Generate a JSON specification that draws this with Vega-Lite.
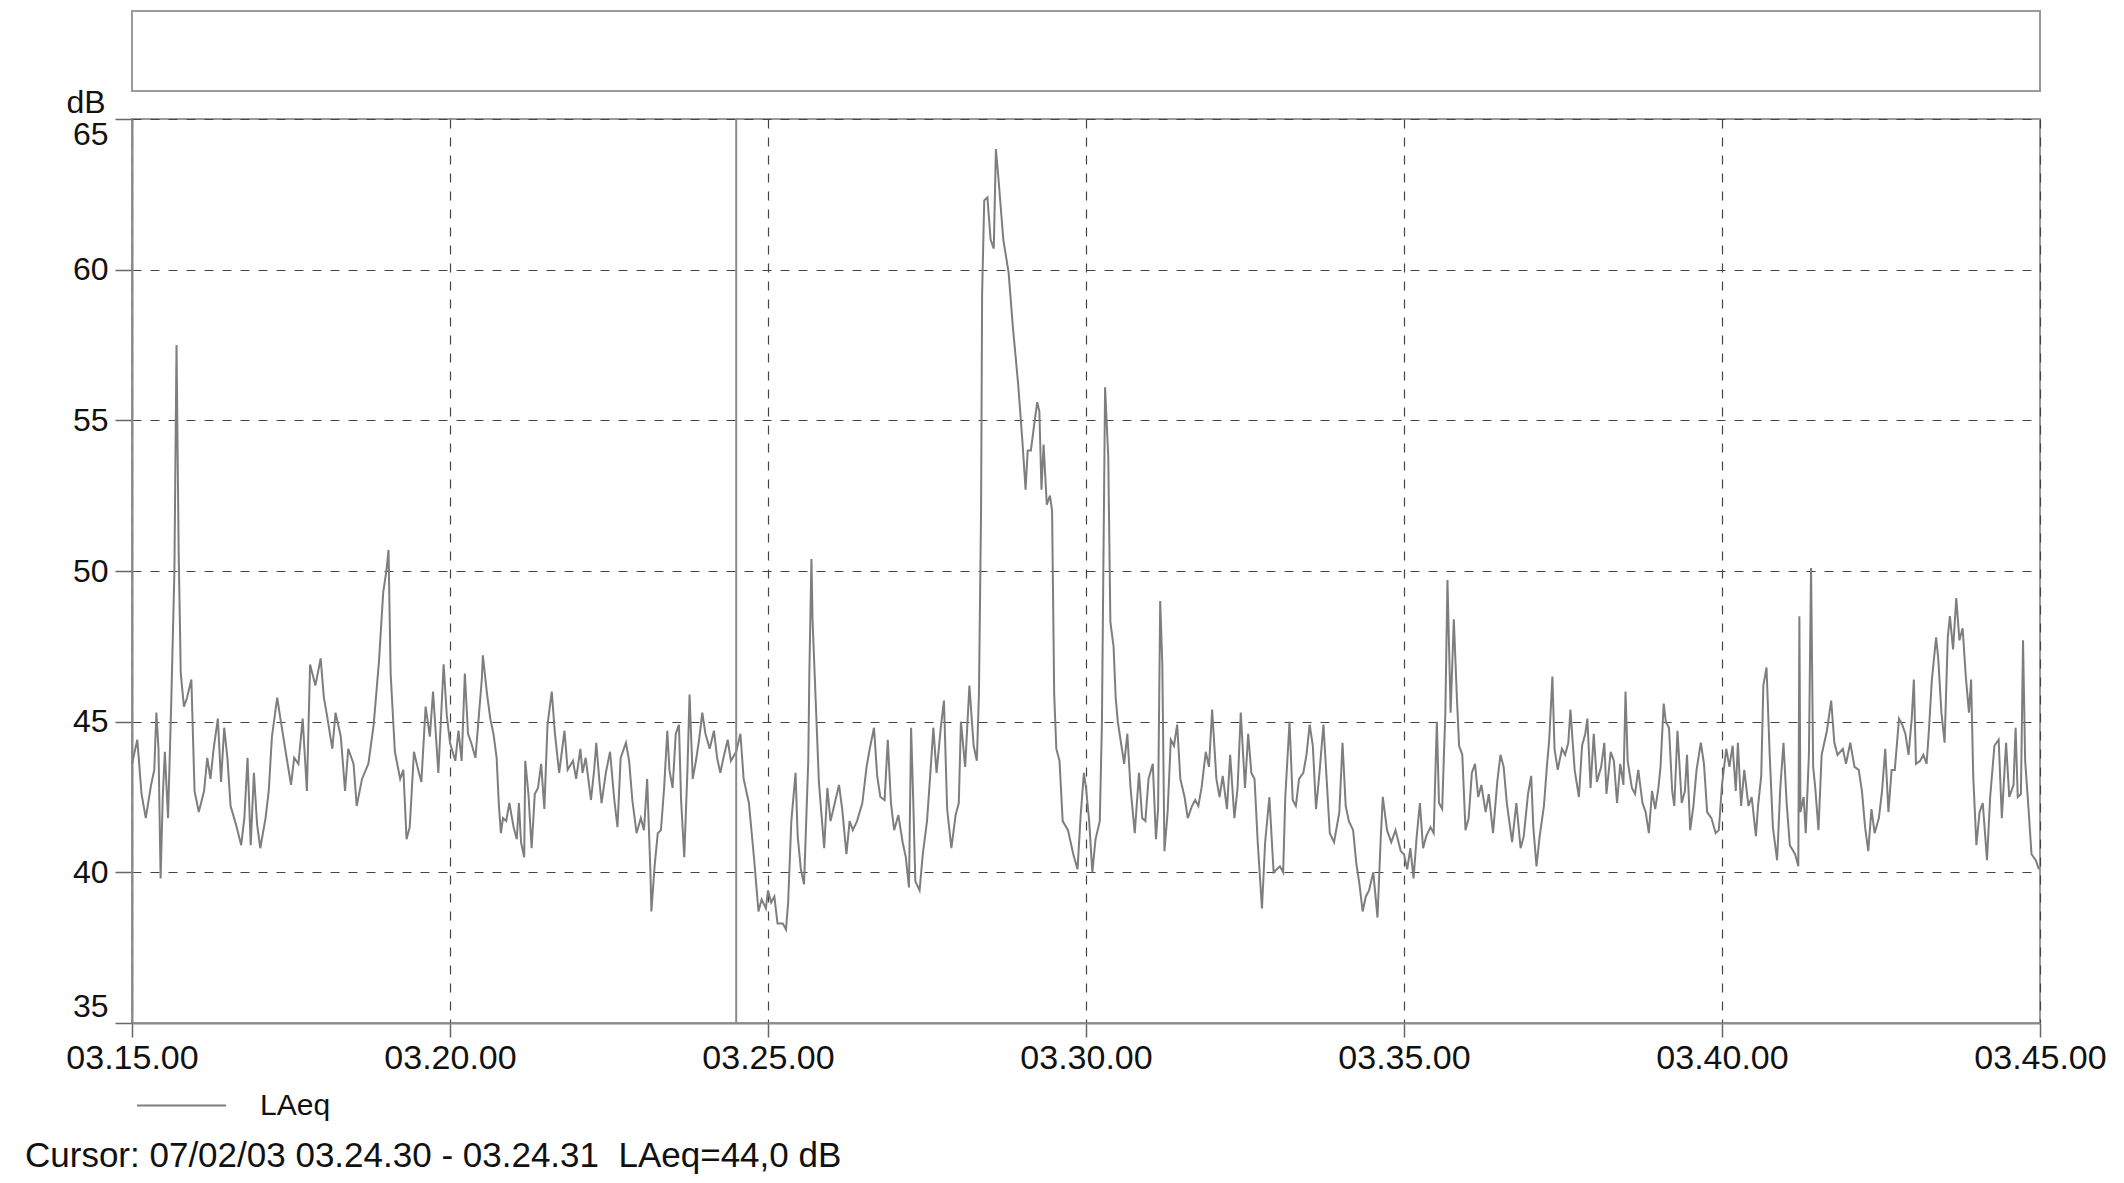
{
  "$schema": "https://vega.github.io/schema/vega-lite/v6.json",
  "padding": {"left": 24, "top": 7, "right": 10, "bottom": 5},
  "background": "white",
  "spacing": 28,
  "bounds": "flush",
  "config": {
    "font": "Liberation Sans",
    "view": {"stroke": "#9a9a9a", "strokeWidth": 2},
    "axis": {
      "labelFont": "Liberation Sans",
      "labelColor": "#111111",
      "domainColor": "#8a8a8a",
      "domainWidth": 2,
      "tickColor": "#666666",
      "tickWidth": 1.5,
      "gridColor": "#444444",
      "gridDash": [9, 9],
      "gridWidth": 1.2
    }
  },
  "vconcat": [
    {
      "width": 1908,
      "height": 80,
      "data": {"values": [{"LAeq": 50}]},
      "mark": {"type": "point", "opacity": 0},
      "encoding": {
        "y": {"field": "LAeq", "type": "quantitative", "axis": null}
      }
    },
    {
      "width": 1908,
      "height": 904,
      "title": {
        "text": "Cursor: 07/02/03 03.24.30 - 03.24.31 \u00a0LAeq=44,0 dB",
        "orient": "bottom",
        "anchor": "start",
        "frame": "group",
        "dx": -107,
        "offset": 64,
        "fontSize": 35,
        "fontWeight": "normal",
        "color": "#111111"
      },
      "layer": [
        {
          "data": {
            "format": {"parse": {"time": "date:'%H:%M:%S'"}},
            "values": [
              {"time": "3:15:00", "LAeq": 43.6}, {"time": "3:15:05", "LAeq": 44.4}, {"time": "3:15:09", "LAeq": 42.6},
              {"time": "3:15:13", "LAeq": 41.8}, {"time": "3:15:18", "LAeq": 42.9}, {"time": "3:15:21", "LAeq": 43.4},
              {"time": "3:15:23", "LAeq": 45.3}, {"time": "3:15:25", "LAeq": 44.1}, {"time": "3:15:27", "LAeq": 39.8},
              {"time": "3:15:29", "LAeq": 42.5}, {"time": "3:15:31", "LAeq": 44.0}, {"time": "3:15:34", "LAeq": 41.8},
              {"time": "3:15:37", "LAeq": 45.6}, {"time": "3:15:40", "LAeq": 50.0}, {"time": "3:15:42", "LAeq": 57.5},
              {"time": "3:15:44", "LAeq": 50.7}, {"time": "3:15:46", "LAeq": 46.6}, {"time": "3:15:49", "LAeq": 45.5},
              {"time": "3:15:52", "LAeq": 45.8}, {"time": "3:15:56", "LAeq": 46.4}, {"time": "3:15:59", "LAeq": 42.7},
              {"time": "3:16:03", "LAeq": 42.0}, {"time": "3:16:08", "LAeq": 42.7}, {"time": "3:16:11", "LAeq": 43.8},
              {"time": "3:16:14", "LAeq": 43.1}, {"time": "3:16:17", "LAeq": 44.1}, {"time": "3:16:21", "LAeq": 45.1},
              {"time": "3:16:24", "LAeq": 43.0}, {"time": "3:16:27", "LAeq": 44.8}, {"time": "3:16:30", "LAeq": 43.8},
              {"time": "3:16:33", "LAeq": 42.2}, {"time": "3:16:38", "LAeq": 41.6}, {"time": "3:16:43", "LAeq": 40.9},
              {"time": "3:16:46", "LAeq": 41.8}, {"time": "3:16:49", "LAeq": 43.8}, {"time": "3:16:52", "LAeq": 40.9},
              {"time": "3:16:55", "LAeq": 43.3}, {"time": "3:16:58", "LAeq": 41.6}, {"time": "3:17:01", "LAeq": 40.8},
              {"time": "3:17:06", "LAeq": 41.8}, {"time": "3:17:09", "LAeq": 42.7}, {"time": "3:17:12", "LAeq": 44.5},
              {"time": "3:17:17", "LAeq": 45.8}, {"time": "3:17:20", "LAeq": 45.1}, {"time": "3:17:25", "LAeq": 44.0},
              {"time": "3:17:30", "LAeq": 42.9}, {"time": "3:17:33", "LAeq": 43.8}, {"time": "3:17:37", "LAeq": 43.6},
              {"time": "3:17:41", "LAeq": 45.1}, {"time": "3:17:45", "LAeq": 42.7}, {"time": "3:17:48", "LAeq": 46.9},
              {"time": "3:17:53", "LAeq": 46.2}, {"time": "3:17:58", "LAeq": 47.1}, {"time": "3:18:01", "LAeq": 45.8},
              {"time": "3:18:04", "LAeq": 45.2}, {"time": "3:18:09", "LAeq": 44.1}, {"time": "3:18:12", "LAeq": 45.3},
              {"time": "3:18:17", "LAeq": 44.5}, {"time": "3:18:21", "LAeq": 42.7}, {"time": "3:18:24", "LAeq": 44.1},
              {"time": "3:18:29", "LAeq": 43.6}, {"time": "3:18:32", "LAeq": 42.2}, {"time": "3:18:37", "LAeq": 43.1},
              {"time": "3:18:43", "LAeq": 43.6}, {"time": "3:18:48", "LAeq": 44.9}, {"time": "3:18:53", "LAeq": 47.0},
              {"time": "3:18:57", "LAeq": 49.3}, {"time": "3:19:00", "LAeq": 50.0}, {"time": "3:19:02", "LAeq": 50.7},
              {"time": "3:19:04", "LAeq": 46.6}, {"time": "3:19:08", "LAeq": 44.0}, {"time": "3:19:13", "LAeq": 43.1},
              {"time": "3:19:16", "LAeq": 43.4}, {"time": "3:19:19", "LAeq": 41.1}, {"time": "3:19:22", "LAeq": 41.5},
              {"time": "3:19:26", "LAeq": 44.0}, {"time": "3:19:30", "LAeq": 43.4}, {"time": "3:19:33", "LAeq": 43.0},
              {"time": "3:19:37", "LAeq": 45.5}, {"time": "3:19:41", "LAeq": 44.5}, {"time": "3:19:44", "LAeq": 46.0},
              {"time": "3:19:49", "LAeq": 43.3}, {"time": "3:19:54", "LAeq": 46.9}, {"time": "3:19:57", "LAeq": 45.2},
              {"time": "3:20:00", "LAeq": 44.3}, {"time": "3:20:05", "LAeq": 43.7}, {"time": "3:20:08", "LAeq": 44.7},
              {"time": "3:20:11", "LAeq": 43.7}, {"time": "3:20:14", "LAeq": 46.6}, {"time": "3:20:17", "LAeq": 44.6},
              {"time": "3:20:20", "LAeq": 44.3}, {"time": "3:20:24", "LAeq": 43.8}, {"time": "3:20:27", "LAeq": 45.1},
              {"time": "3:20:30", "LAeq": 46.4}, {"time": "3:20:31", "LAeq": 47.2}, {"time": "3:20:35", "LAeq": 45.9},
              {"time": "3:20:38", "LAeq": 45.1}, {"time": "3:20:41", "LAeq": 44.6}, {"time": "3:20:44", "LAeq": 43.8},
              {"time": "3:20:46", "LAeq": 42.3}, {"time": "3:20:48", "LAeq": 41.3}, {"time": "3:20:50", "LAeq": 41.8},
              {"time": "3:20:53", "LAeq": 41.7}, {"time": "3:20:56", "LAeq": 42.3}, {"time": "3:21:00", "LAeq": 41.5},
              {"time": "3:21:03", "LAeq": 41.1}, {"time": "3:21:05", "LAeq": 42.3}, {"time": "3:21:07", "LAeq": 41.0},
              {"time": "3:21:10", "LAeq": 40.5}, {"time": "3:21:11", "LAeq": 43.7}, {"time": "3:21:14", "LAeq": 42.6},
              {"time": "3:21:17", "LAeq": 40.8}, {"time": "3:21:20", "LAeq": 42.6}, {"time": "3:21:23", "LAeq": 42.8},
              {"time": "3:21:26", "LAeq": 43.6}, {"time": "3:21:29", "LAeq": 42.1}, {"time": "3:21:32", "LAeq": 44.9},
              {"time": "3:21:36", "LAeq": 46.0}, {"time": "3:21:39", "LAeq": 44.6}, {"time": "3:21:43", "LAeq": 43.3},
              {"time": "3:21:48", "LAeq": 44.7}, {"time": "3:21:51", "LAeq": 43.4}, {"time": "3:21:56", "LAeq": 43.7},
              {"time": "3:21:59", "LAeq": 43.1}, {"time": "3:22:03", "LAeq": 44.1}, {"time": "3:22:05", "LAeq": 43.3},
              {"time": "3:22:08", "LAeq": 43.8}, {"time": "3:22:13", "LAeq": 42.4}, {"time": "3:22:16", "LAeq": 43.4},
              {"time": "3:22:18", "LAeq": 44.3}, {"time": "3:22:21", "LAeq": 43.0}, {"time": "3:22:23", "LAeq": 42.3},
              {"time": "3:22:27", "LAeq": 43.3}, {"time": "3:22:31", "LAeq": 44.0}, {"time": "3:22:35", "LAeq": 42.4},
              {"time": "3:22:38", "LAeq": 41.5}, {"time": "3:22:41", "LAeq": 43.8}, {"time": "3:22:46", "LAeq": 44.3},
              {"time": "3:22:49", "LAeq": 43.7}, {"time": "3:22:52", "LAeq": 42.4}, {"time": "3:22:56", "LAeq": 41.3},
              {"time": "3:23:00", "LAeq": 41.8}, {"time": "3:23:03", "LAeq": 41.4}, {"time": "3:23:06", "LAeq": 43.1},
              {"time": "3:23:09", "LAeq": 40.1}, {"time": "3:23:10", "LAeq": 38.7}, {"time": "3:23:13", "LAeq": 40.2},
              {"time": "3:23:16", "LAeq": 41.3}, {"time": "3:23:19", "LAeq": 41.4}, {"time": "3:23:22", "LAeq": 42.8},
              {"time": "3:23:25", "LAeq": 44.7}, {"time": "3:23:27", "LAeq": 43.4}, {"time": "3:23:30", "LAeq": 42.8},
              {"time": "3:23:33", "LAeq": 44.6}, {"time": "3:23:36", "LAeq": 44.9}, {"time": "3:23:38", "LAeq": 42.4},
              {"time": "3:23:41", "LAeq": 40.5}, {"time": "3:23:44", "LAeq": 43.4}, {"time": "3:23:46", "LAeq": 45.9},
              {"time": "3:23:49", "LAeq": 43.1}, {"time": "3:23:52", "LAeq": 43.7}, {"time": "3:23:55", "LAeq": 44.4},
              {"time": "3:23:58", "LAeq": 45.3}, {"time": "3:24:01", "LAeq": 44.6}, {"time": "3:24:05", "LAeq": 44.1},
              {"time": "3:24:09", "LAeq": 44.7}, {"time": "3:24:12", "LAeq": 43.8}, {"time": "3:24:15", "LAeq": 43.3},
              {"time": "3:24:18", "LAeq": 43.8}, {"time": "3:24:22", "LAeq": 44.4}, {"time": "3:24:25", "LAeq": 43.7},
              {"time": "3:24:30", "LAeq": 44.0}, {"time": "3:24:34", "LAeq": 44.6}, {"time": "3:24:37", "LAeq": 43.1},
              {"time": "3:24:42", "LAeq": 42.3}, {"time": "3:24:47", "LAeq": 40.4}, {"time": "3:24:51", "LAeq": 38.7},
              {"time": "3:24:54", "LAeq": 39.1}, {"time": "3:24:58", "LAeq": 38.8},
              {"time": "3:25:00", "LAeq": 39.4}, {"time": "3:25:03", "LAeq": 39.0}, {"time": "3:25:06", "LAeq": 39.2},
              {"time": "3:25:09", "LAeq": 38.3}, {"time": "3:25:14", "LAeq": 38.3}, {"time": "3:25:17", "LAeq": 38.1},
              {"time": "3:25:19", "LAeq": 39.0}, {"time": "3:25:22", "LAeq": 41.7}, {"time": "3:25:26", "LAeq": 43.3},
              {"time": "3:25:28", "LAeq": 41.2}, {"time": "3:25:31", "LAeq": 40.1}, {"time": "3:25:34", "LAeq": 39.6},
              {"time": "3:25:38", "LAeq": 43.7}, {"time": "3:25:39", "LAeq": 46.6}, {"time": "3:25:41", "LAeq": 50.4},
              {"time": "3:25:42", "LAeq": 48.4}, {"time": "3:25:45", "LAeq": 45.7}, {"time": "3:25:48", "LAeq": 43.0},
              {"time": "3:25:53", "LAeq": 40.8}, {"time": "3:25:56", "LAeq": 42.8}, {"time": "3:25:59", "LAeq": 41.7},
              {"time": "3:26:03", "LAeq": 42.3}, {"time": "3:26:07", "LAeq": 42.9}, {"time": "3:26:10", "LAeq": 42.1},
              {"time": "3:26:14", "LAeq": 40.6}, {"time": "3:26:17", "LAeq": 41.7}, {"time": "3:26:20", "LAeq": 41.4},
              {"time": "3:26:24", "LAeq": 41.7}, {"time": "3:26:29", "LAeq": 42.3}, {"time": "3:26:33", "LAeq": 43.5},
              {"time": "3:26:36", "LAeq": 44.1}, {"time": "3:26:40", "LAeq": 44.8}, {"time": "3:26:43", "LAeq": 43.2},
              {"time": "3:26:46", "LAeq": 42.5}, {"time": "3:26:50", "LAeq": 42.4}, {"time": "3:26:53", "LAeq": 44.4},
              {"time": "3:26:56", "LAeq": 42.3}, {"time": "3:26:59", "LAeq": 41.4}, {"time": "3:27:03", "LAeq": 41.9},
              {"time": "3:27:07", "LAeq": 41.0}, {"time": "3:27:10", "LAeq": 40.5}, {"time": "3:27:13", "LAeq": 39.5},
              {"time": "3:27:15", "LAeq": 44.8}, {"time": "3:27:17", "LAeq": 42.4}, {"time": "3:27:19", "LAeq": 39.7},
              {"time": "3:27:23", "LAeq": 39.4}, {"time": "3:27:26", "LAeq": 40.6}, {"time": "3:27:30", "LAeq": 41.7},
              {"time": "3:27:33", "LAeq": 43.2}, {"time": "3:27:36", "LAeq": 44.8}, {"time": "3:27:39", "LAeq": 43.3},
              {"time": "3:27:43", "LAeq": 44.8}, {"time": "3:27:46", "LAeq": 45.7}, {"time": "3:27:49", "LAeq": 42.1},
              {"time": "3:27:53", "LAeq": 40.8}, {"time": "3:27:57", "LAeq": 41.9}, {"time": "3:28:00", "LAeq": 42.3},
              {"time": "3:28:02", "LAeq": 45.0}, {"time": "3:28:06", "LAeq": 43.5}, {"time": "3:28:10", "LAeq": 46.2},
              {"time": "3:28:14", "LAeq": 44.2}, {"time": "3:28:17", "LAeq": 43.7}, {"time": "3:28:19", "LAeq": 45.9},
              {"time": "3:28:21", "LAeq": 52.0}, {"time": "3:28:22", "LAeq": 59.2}, {"time": "3:28:24", "LAeq": 62.3},
              {"time": "3:28:27", "LAeq": 62.4}, {"time": "3:28:30", "LAeq": 61.0}, {"time": "3:28:33", "LAeq": 60.7},
              {"time": "3:28:35", "LAeq": 64.0}, {"time": "3:28:37", "LAeq": 63.2}, {"time": "3:28:42", "LAeq": 61.0},
              {"time": "3:28:47", "LAeq": 59.9}, {"time": "3:28:51", "LAeq": 58.1}, {"time": "3:28:56", "LAeq": 56.2},
              {"time": "3:29:00", "LAeq": 54.3}, {"time": "3:29:03", "LAeq": 52.7}, {"time": "3:29:05", "LAeq": 54.0},
              {"time": "3:29:08", "LAeq": 54.0}, {"time": "3:29:12", "LAeq": 55.1}, {"time": "3:29:14", "LAeq": 55.6},
              {"time": "3:29:16", "LAeq": 55.3}, {"time": "3:29:18", "LAeq": 52.7}, {"time": "3:29:20", "LAeq": 54.2},
              {"time": "3:29:23", "LAeq": 52.2}, {"time": "3:29:26", "LAeq": 52.5}, {"time": "3:29:28", "LAeq": 52.0},
              {"time": "3:29:30", "LAeq": 45.9}, {"time": "3:29:32", "LAeq": 44.1}, {"time": "3:29:35", "LAeq": 43.7},
              {"time": "3:29:38", "LAeq": 41.7}, {"time": "3:29:43", "LAeq": 41.4}, {"time": "3:29:48", "LAeq": 40.6},
              {"time": "3:29:52", "LAeq": 40.1}, {"time": "3:29:55", "LAeq": 41.9}, {"time": "3:29:58", "LAeq": 43.3},
              {"time": "3:30:00", "LAeq": 42.8}, {"time": "3:30:03", "LAeq": 41.7}, {"time": "3:30:06", "LAeq": 40.0},
              {"time": "3:30:09", "LAeq": 41.1}, {"time": "3:30:13", "LAeq": 41.7}, {"time": "3:30:15", "LAeq": 44.9},
              {"time": "3:30:17", "LAeq": 52.4}, {"time": "3:30:18", "LAeq": 56.1}, {"time": "3:30:21", "LAeq": 53.8},
              {"time": "3:30:23", "LAeq": 48.3}, {"time": "3:30:26", "LAeq": 47.5}, {"time": "3:30:28", "LAeq": 45.8},
              {"time": "3:30:30", "LAeq": 45.0}, {"time": "3:30:33", "LAeq": 44.3}, {"time": "3:30:36", "LAeq": 43.6},
              {"time": "3:30:39", "LAeq": 44.6}, {"time": "3:30:42", "LAeq": 42.8}, {"time": "3:30:46", "LAeq": 41.3},
              {"time": "3:30:50", "LAeq": 43.3}, {"time": "3:30:53", "LAeq": 41.8}, {"time": "3:30:56", "LAeq": 41.7},
              {"time": "3:30:59", "LAeq": 43.1}, {"time": "3:31:03", "LAeq": 43.6}, {"time": "3:31:06", "LAeq": 41.1},
              {"time": "3:31:08", "LAeq": 42.1}, {"time": "3:31:10", "LAeq": 49.0}, {"time": "3:31:12", "LAeq": 46.9},
              {"time": "3:31:14", "LAeq": 40.7}, {"time": "3:31:17", "LAeq": 42.0}, {"time": "3:31:20", "LAeq": 44.4},
              {"time": "3:31:23", "LAeq": 44.2}, {"time": "3:31:26", "LAeq": 44.9}, {"time": "3:31:29", "LAeq": 43.1},
              {"time": "3:31:33", "LAeq": 42.5}, {"time": "3:31:36", "LAeq": 41.8}, {"time": "3:31:40", "LAeq": 42.2},
              {"time": "3:31:43", "LAeq": 42.4}, {"time": "3:31:46", "LAeq": 42.2}, {"time": "3:31:49", "LAeq": 42.8},
              {"time": "3:31:53", "LAeq": 44.0}, {"time": "3:31:56", "LAeq": 43.5}, {"time": "3:31:59", "LAeq": 45.4},
              {"time": "3:32:03", "LAeq": 43.1}, {"time": "3:32:06", "LAeq": 42.5}, {"time": "3:32:09", "LAeq": 43.2},
              {"time": "3:32:13", "LAeq": 42.1}, {"time": "3:32:16", "LAeq": 43.9}, {"time": "3:32:20", "LAeq": 41.8},
              {"time": "3:32:23", "LAeq": 42.8}, {"time": "3:32:26", "LAeq": 45.3}, {"time": "3:32:30", "LAeq": 42.8},
              {"time": "3:32:33", "LAeq": 44.6}, {"time": "3:32:36", "LAeq": 43.3}, {"time": "3:32:39", "LAeq": 43.1},
              {"time": "3:32:42", "LAeq": 41.0}, {"time": "3:32:46", "LAeq": 38.8}, {"time": "3:32:49", "LAeq": 41.0},
              {"time": "3:32:53", "LAeq": 42.5}, {"time": "3:32:57", "LAeq": 40.0}, {"time": "3:33:03", "LAeq": 40.2},
              {"time": "3:33:06", "LAeq": 40.0}, {"time": "3:33:08", "LAeq": 42.5}, {"time": "3:33:12", "LAeq": 45.0},
              {"time": "3:33:15", "LAeq": 42.4}, {"time": "3:33:18", "LAeq": 42.2}, {"time": "3:33:21", "LAeq": 43.1},
              {"time": "3:33:25", "LAeq": 43.3}, {"time": "3:33:28", "LAeq": 43.9}, {"time": "3:33:31", "LAeq": 44.9},
              {"time": "3:33:34", "LAeq": 44.2}, {"time": "3:33:37", "LAeq": 42.1}, {"time": "3:33:40", "LAeq": 43.2},
              {"time": "3:33:44", "LAeq": 44.9}, {"time": "3:33:47", "LAeq": 43.1}, {"time": "3:33:50", "LAeq": 41.3},
              {"time": "3:33:54", "LAeq": 41.0}, {"time": "3:33:59", "LAeq": 42.0}, {"time": "3:34:02", "LAeq": 44.3},
              {"time": "3:34:05", "LAeq": 42.2}, {"time": "3:34:08", "LAeq": 41.7}, {"time": "3:34:12", "LAeq": 41.4},
              {"time": "3:34:15", "LAeq": 40.3}, {"time": "3:34:18", "LAeq": 39.6}, {"time": "3:34:21", "LAeq": 38.7},
              {"time": "3:34:24", "LAeq": 39.2}, {"time": "3:34:27", "LAeq": 39.4}, {"time": "3:34:31", "LAeq": 40.0},
              {"time": "3:34:35", "LAeq": 38.5}, {"time": "3:34:38", "LAeq": 41.1}, {"time": "3:34:40", "LAeq": 42.5},
              {"time": "3:34:44", "LAeq": 41.4}, {"time": "3:34:48", "LAeq": 41.0}, {"time": "3:34:52", "LAeq": 41.4},
              {"time": "3:34:57", "LAeq": 40.7},
              {"time": "3:35:00", "LAeq": 40.6}, {"time": "3:35:03", "LAeq": 40.1}, {"time": "3:35:06", "LAeq": 40.8},
              {"time": "3:35:09", "LAeq": 39.8}, {"time": "3:35:12", "LAeq": 41.2}, {"time": "3:35:15", "LAeq": 42.3},
              {"time": "3:35:18", "LAeq": 40.8}, {"time": "3:35:21", "LAeq": 41.2}, {"time": "3:35:25", "LAeq": 41.5},
              {"time": "3:35:28", "LAeq": 41.3}, {"time": "3:35:31", "LAeq": 45.0}, {"time": "3:35:33", "LAeq": 42.3},
              {"time": "3:35:36", "LAeq": 42.1}, {"time": "3:35:39", "LAeq": 45.3}, {"time": "3:35:41", "LAeq": 49.7},
              {"time": "3:35:44", "LAeq": 45.3}, {"time": "3:35:47", "LAeq": 48.4}, {"time": "3:35:50", "LAeq": 45.7},
              {"time": "3:35:52", "LAeq": 44.2}, {"time": "3:35:55", "LAeq": 43.9}, {"time": "3:35:58", "LAeq": 41.4},
              {"time": "3:36:01", "LAeq": 41.8}, {"time": "3:36:04", "LAeq": 43.3}, {"time": "3:36:07", "LAeq": 43.6},
              {"time": "3:36:10", "LAeq": 42.5}, {"time": "3:36:13", "LAeq": 42.9}, {"time": "3:36:17", "LAeq": 42.0},
              {"time": "3:36:20", "LAeq": 42.6}, {"time": "3:36:24", "LAeq": 41.3}, {"time": "3:36:28", "LAeq": 43.0},
              {"time": "3:36:31", "LAeq": 43.9}, {"time": "3:36:34", "LAeq": 43.5}, {"time": "3:36:37", "LAeq": 42.3},
              {"time": "3:36:42", "LAeq": 41.0}, {"time": "3:36:46", "LAeq": 42.3}, {"time": "3:36:50", "LAeq": 40.8},
              {"time": "3:36:53", "LAeq": 41.2}, {"time": "3:36:57", "LAeq": 42.6}, {"time": "3:37:00", "LAeq": 43.2},
              {"time": "3:37:02", "LAeq": 41.5}, {"time": "3:37:05", "LAeq": 40.2}, {"time": "3:37:08", "LAeq": 41.2},
              {"time": "3:37:12", "LAeq": 42.2}, {"time": "3:37:15", "LAeq": 43.6}, {"time": "3:37:17", "LAeq": 44.4},
              {"time": "3:37:20", "LAeq": 46.5}, {"time": "3:37:22", "LAeq": 44.1}, {"time": "3:37:25", "LAeq": 43.4},
              {"time": "3:37:29", "LAeq": 44.1}, {"time": "3:37:32", "LAeq": 43.9}, {"time": "3:37:35", "LAeq": 44.3},
              {"time": "3:37:37", "LAeq": 45.4}, {"time": "3:37:41", "LAeq": 43.4}, {"time": "3:37:45", "LAeq": 42.5},
              {"time": "3:37:48", "LAeq": 44.2}, {"time": "3:37:51", "LAeq": 44.6}, {"time": "3:37:53", "LAeq": 45.1},
              {"time": "3:37:56", "LAeq": 42.8}, {"time": "3:37:59", "LAeq": 44.6}, {"time": "3:38:02", "LAeq": 43.0},
              {"time": "3:38:06", "LAeq": 43.5}, {"time": "3:38:09", "LAeq": 44.3}, {"time": "3:38:11", "LAeq": 42.6},
              {"time": "3:38:15", "LAeq": 44.0}, {"time": "3:38:18", "LAeq": 43.7}, {"time": "3:38:21", "LAeq": 42.3},
              {"time": "3:38:24", "LAeq": 43.6}, {"time": "3:38:27", "LAeq": 42.9}, {"time": "3:38:29", "LAeq": 46.0},
              {"time": "3:38:31", "LAeq": 43.7}, {"time": "3:38:35", "LAeq": 42.8}, {"time": "3:38:38", "LAeq": 42.6},
              {"time": "3:38:41", "LAeq": 43.4}, {"time": "3:38:45", "LAeq": 42.3}, {"time": "3:38:48", "LAeq": 42.0},
              {"time": "3:38:51", "LAeq": 41.3}, {"time": "3:38:54", "LAeq": 42.7}, {"time": "3:38:57", "LAeq": 42.1},
              {"time": "3:39:00", "LAeq": 42.8}, {"time": "3:39:02", "LAeq": 43.5}, {"time": "3:39:05", "LAeq": 45.6},
              {"time": "3:39:07", "LAeq": 45.0}, {"time": "3:39:10", "LAeq": 44.8}, {"time": "3:39:13", "LAeq": 42.7},
              {"time": "3:39:15", "LAeq": 42.2}, {"time": "3:39:18", "LAeq": 44.7}, {"time": "3:39:22", "LAeq": 42.3},
              {"time": "3:39:25", "LAeq": 42.7}, {"time": "3:39:27", "LAeq": 43.9}, {"time": "3:39:30", "LAeq": 41.4},
              {"time": "3:39:33", "LAeq": 42.2}, {"time": "3:39:36", "LAeq": 43.4}, {"time": "3:39:40", "LAeq": 44.3},
              {"time": "3:39:43", "LAeq": 43.6}, {"time": "3:39:46", "LAeq": 42.0}, {"time": "3:39:50", "LAeq": 41.8},
              {"time": "3:39:54", "LAeq": 41.3}, {"time": "3:39:57", "LAeq": 41.4},
              {"time": "3:40:00", "LAeq": 42.9}, {"time": "3:40:04", "LAeq": 44.1}, {"time": "3:40:07", "LAeq": 43.5},
              {"time": "3:40:10", "LAeq": 44.2}, {"time": "3:40:13", "LAeq": 42.7}, {"time": "3:40:15", "LAeq": 44.3},
              {"time": "3:40:18", "LAeq": 42.2}, {"time": "3:40:21", "LAeq": 43.4}, {"time": "3:40:25", "LAeq": 42.2},
              {"time": "3:40:28", "LAeq": 42.5}, {"time": "3:40:32", "LAeq": 41.2}, {"time": "3:40:34", "LAeq": 42.2},
              {"time": "3:40:37", "LAeq": 43.2}, {"time": "3:40:39", "LAeq": 46.2}, {"time": "3:40:42", "LAeq": 46.8},
              {"time": "3:40:45", "LAeq": 43.9}, {"time": "3:40:48", "LAeq": 41.5}, {"time": "3:40:52", "LAeq": 40.4},
              {"time": "3:40:55", "LAeq": 42.8}, {"time": "3:40:58", "LAeq": 44.3}, {"time": "3:41:01", "LAeq": 42.3},
              {"time": "3:41:04", "LAeq": 40.9}, {"time": "3:41:09", "LAeq": 40.6}, {"time": "3:41:12", "LAeq": 40.2},
              {"time": "3:41:13", "LAeq": 48.5}, {"time": "3:41:14", "LAeq": 42.0}, {"time": "3:41:17", "LAeq": 42.5},
              {"time": "3:41:19", "LAeq": 41.3}, {"time": "3:41:22", "LAeq": 43.9}, {"time": "3:41:24", "LAeq": 50.1},
              {"time": "3:41:26", "LAeq": 43.5}, {"time": "3:41:28", "LAeq": 42.8}, {"time": "3:41:31", "LAeq": 41.4},
              {"time": "3:41:34", "LAeq": 43.9}, {"time": "3:41:39", "LAeq": 44.7}, {"time": "3:41:43", "LAeq": 45.7},
              {"time": "3:41:46", "LAeq": 44.3}, {"time": "3:41:49", "LAeq": 43.9}, {"time": "3:41:54", "LAeq": 44.1},
              {"time": "3:41:57", "LAeq": 43.6}, {"time": "3:42:01", "LAeq": 44.3}, {"time": "3:42:05", "LAeq": 43.5},
              {"time": "3:42:09", "LAeq": 43.4}, {"time": "3:42:12", "LAeq": 42.7}, {"time": "3:42:15", "LAeq": 41.5},
              {"time": "3:42:18", "LAeq": 40.7}, {"time": "3:42:21", "LAeq": 42.1}, {"time": "3:42:24", "LAeq": 41.3},
              {"time": "3:42:28", "LAeq": 41.8}, {"time": "3:42:31", "LAeq": 42.7}, {"time": "3:42:34", "LAeq": 44.1},
              {"time": "3:42:37", "LAeq": 42.0}, {"time": "3:42:40", "LAeq": 43.4}, {"time": "3:42:43", "LAeq": 43.4},
              {"time": "3:42:47", "LAeq": 45.1}, {"time": "3:42:50", "LAeq": 44.9}, {"time": "3:42:53", "LAeq": 44.6},
              {"time": "3:42:56", "LAeq": 43.9}, {"time": "3:42:59", "LAeq": 45.1}, {"time": "3:43:01", "LAeq": 46.4},
              {"time": "3:43:03", "LAeq": 43.6}, {"time": "3:43:07", "LAeq": 43.7}, {"time": "3:43:10", "LAeq": 43.9},
              {"time": "3:43:13", "LAeq": 43.6}, {"time": "3:43:15", "LAeq": 44.6}, {"time": "3:43:18", "LAeq": 46.4},
              {"time": "3:43:22", "LAeq": 47.8}, {"time": "3:43:24", "LAeq": 47.1}, {"time": "3:43:27", "LAeq": 45.3},
              {"time": "3:43:30", "LAeq": 44.3}, {"time": "3:43:33", "LAeq": 47.8}, {"time": "3:43:35", "LAeq": 48.5},
              {"time": "3:43:38", "LAeq": 47.4}, {"time": "3:43:41", "LAeq": 49.1}, {"time": "3:43:44", "LAeq": 47.7},
              {"time": "3:43:47", "LAeq": 48.1}, {"time": "3:43:50", "LAeq": 46.5}, {"time": "3:43:53", "LAeq": 45.3},
              {"time": "3:43:55", "LAeq": 46.4}, {"time": "3:43:57", "LAeq": 43.2}, {"time": "3:44:00", "LAeq": 40.9},
              {"time": "3:44:03", "LAeq": 42.0}, {"time": "3:44:06", "LAeq": 42.3}, {"time": "3:44:10", "LAeq": 40.4},
              {"time": "3:44:13", "LAeq": 42.5}, {"time": "3:44:17", "LAeq": 44.2}, {"time": "3:44:21", "LAeq": 44.4},
              {"time": "3:44:24", "LAeq": 41.8}, {"time": "3:44:28", "LAeq": 44.3}, {"time": "3:44:31", "LAeq": 42.5},
              {"time": "3:44:35", "LAeq": 42.9}, {"time": "3:44:37", "LAeq": 44.8}, {"time": "3:44:39", "LAeq": 42.5},
              {"time": "3:44:42", "LAeq": 42.6}, {"time": "3:44:44", "LAeq": 47.7}, {"time": "3:44:46", "LAeq": 43.7},
              {"time": "3:44:49", "LAeq": 42.2}, {"time": "3:44:52", "LAeq": 40.6}, {"time": "3:44:56", "LAeq": 40.4},
              {"time": "3:44:59", "LAeq": 40.1}
            ]
          },
          "mark": {"type": "line", "strokeWidth": 2, "color": "#7e7e7e"},
          "encoding": {
            "x": {
              "field": "time",
              "type": "temporal",
              "scale": {
                "domain": [
                  {"year": 1900, "month": 1, "date": 1, "hours": 3, "minutes": 15},
                  {"year": 1900, "month": 1, "date": 1, "hours": 3, "minutes": 45}
                ]
              },
              "axis": {
                "title": null,
                "format": "%H.%M.%S",
                "values": [
                  {"year": 1900, "month": 1, "date": 1, "hours": 3, "minutes": 15},
                  {"year": 1900, "month": 1, "date": 1, "hours": 3, "minutes": 20},
                  {"year": 1900, "month": 1, "date": 1, "hours": 3, "minutes": 25},
                  {"year": 1900, "month": 1, "date": 1, "hours": 3, "minutes": 30},
                  {"year": 1900, "month": 1, "date": 1, "hours": 3, "minutes": 35},
                  {"year": 1900, "month": 1, "date": 1, "hours": 3, "minutes": 40},
                  {"year": 1900, "month": 1, "date": 1, "hours": 3, "minutes": 45}
                ],
                "labelFontSize": 34,
                "labelFlush": false,
                "labelPadding": 4,
                "tickSize": 14
              }
            },
            "y": {
              "field": "LAeq",
              "type": "quantitative",
              "scale": {"domain": [35, 65], "nice": false, "zero": false},
              "axis": {
                "title": "dB",
                "titleAngle": 0,
                "titleX": -66,
                "titleY": -17,
                "titleAlign": "left",
                "titleBaseline": "middle",
                "titleFontSize": 32,
                "titleFontWeight": "normal",
                "titleColor": "#111111",
                "values": [35, 40, 45, 50, 55, 60, 65],
                "labelFontSize": 32,
                "labelFlush": true,
                "labelPadding": 7,
                "tickSize": 17
              }
            },
            "color": {
              "datum": "LAeq",
              "type": "nominal",
              "scale": {"range": ["#7e7e7e"]},
              "legend": {
                "title": null,
                "orient": "none",
                "legendX": 4,
                "legendY": 1049,
                "symbolType": "stroke",
                "symbolSize": 7921,
                "symbolStrokeWidth": 2,
                "labelFontSize": 30,
                "labelColor": "#111111",
                "labelOffset": 33
              }
            }
          }
        },
        {
          "data": {
            "format": {"parse": {"time": "date:'%H:%M:%S'"}},
            "values": [{"time": "3:24:30", "label": "Cursor"}]
          },
          "mark": {"type": "rule", "color": "#8c8c8c", "strokeWidth": 2},
          "encoding": {
            "x": {"field": "time", "type": "temporal"}
          }
        }
      ]
    }
  ]
}
